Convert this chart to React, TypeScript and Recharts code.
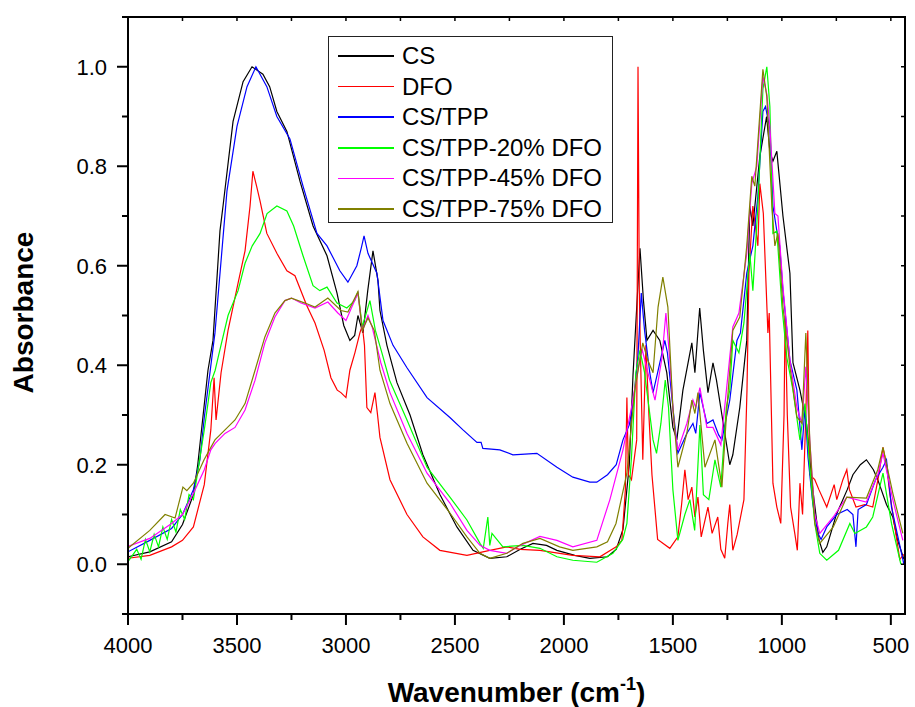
import React from "react";
import { LineChart, Line, XAxis, YAxis, Label } from "recharts";

// FTIR spectra, [wavenumber cm-1, absorbance]
type Pt = [number, number];

const CS: Pt[] = [
  [4000, 0.015], [3900, 0.025], [3800, 0.045], [3750, 0.08], [3700, 0.14], [3680, 0.2],
  [3633, 0.39], [3610, 0.45], [3578, 0.67], [3564, 0.72], [3518, 0.89], [3472, 0.97],
  [3431, 1.0], [3381, 0.985], [3350, 0.96], [3317, 0.91], [3271, 0.87], [3211, 0.77],
  [3151, 0.68], [3087, 0.62], [3041, 0.545], [3010, 0.48], [2982, 0.45], [2960, 0.46],
  [2945, 0.5], [2922, 0.465], [2900, 0.55], [2876, 0.63], [2853, 0.57], [2844, 0.51],
  [2812, 0.44], [2766, 0.365], [2706, 0.3], [2647, 0.22], [2569, 0.14], [2491, 0.075],
  [2417, 0.028], [2340, 0.012], [2262, 0.015], [2200, 0.03], [2142, 0.042], [2080, 0.038],
  [2032, 0.028], [1950, 0.018], [1881, 0.012], [1800, 0.015], [1760, 0.03], [1729, 0.07],
  [1700, 0.2], [1683, 0.38], [1651, 0.635], [1635, 0.53], [1619, 0.45], [1591, 0.47],
  [1560, 0.45], [1528, 0.385], [1500, 0.275], [1482, 0.25], [1454, 0.35], [1413, 0.445],
  [1399, 0.385], [1377, 0.515], [1360, 0.43], [1339, 0.345], [1316, 0.405], [1300, 0.37],
  [1275, 0.3], [1239, 0.2], [1225, 0.22], [1193, 0.315], [1161, 0.45], [1147, 0.72],
  [1133, 0.68], [1101, 0.82], [1070, 0.9], [1055, 0.83], [1041, 0.81], [1023, 0.83],
  [995, 0.7], [963, 0.585], [949, 0.405], [917, 0.35], [886, 0.28], [858, 0.15],
  [830, 0.05], [812, 0.024], [794, 0.035], [750, 0.1], [700, 0.15], [674, 0.18],
  [640, 0.2], [612, 0.21], [580, 0.19], [560, 0.17], [520, 0.12], [491, 0.095],
  [470, 0.05], [440, 0.01],
];

const DFO: Pt[] = [
  [4000, 0.012], [3900, 0.018], [3800, 0.035], [3750, 0.048], [3700, 0.075], [3650, 0.16],
  [3620, 0.27], [3605, 0.375], [3596, 0.29], [3573, 0.385], [3541, 0.47], [3495, 0.565],
  [3463, 0.63], [3440, 0.72], [3427, 0.79], [3410, 0.76], [3394, 0.73], [3363, 0.665],
  [3317, 0.625], [3271, 0.59], [3234, 0.58], [3180, 0.52], [3142, 0.485], [3100, 0.43],
  [3069, 0.375], [3040, 0.35], [3023, 0.345], [3000, 0.335], [2982, 0.39], [2959, 0.425],
  [2936, 0.465], [2925, 0.48], [2915, 0.44], [2904, 0.315], [2886, 0.305], [2867, 0.345],
  [2855, 0.3], [2844, 0.255], [2798, 0.17], [2720, 0.1], [2647, 0.055], [2569, 0.028],
  [2445, 0.018], [2340, 0.028], [2262, 0.035], [2200, 0.03], [2110, 0.028], [1959, 0.018],
  [1835, 0.015], [1760, 0.035], [1734, 0.048], [1718, 0.15], [1711, 0.335], [1704, 0.18],
  [1690, 0.17], [1675, 0.22], [1666, 0.25], [1660, 1.0], [1654, 0.55], [1650, 0.45],
  [1638, 0.21], [1624, 0.44], [1610, 0.3], [1596, 0.18], [1570, 0.05], [1514, 0.032],
  [1477, 0.055], [1460, 0.12], [1445, 0.19], [1430, 0.13], [1413, 0.155], [1399, 0.095],
  [1385, 0.135], [1370, 0.055], [1339, 0.115], [1320, 0.062], [1294, 0.095], [1280, 0.03],
  [1262, 0.012], [1248, 0.082], [1239, 0.12], [1225, 0.028], [1205, 0.06], [1174, 0.13],
  [1160, 0.35], [1151, 0.585], [1133, 0.72], [1110, 0.64], [1101, 0.765], [1085, 0.705],
  [1064, 0.465], [1058, 0.505], [1041, 0.163], [1023, 0.115], [1005, 0.082], [990, 0.3],
  [985, 0.5], [975, 0.3], [960, 0.115], [940, 0.06], [929, 0.028], [917, 0.163],
  [905, 0.1], [890, 0.3], [881, 0.47], [872, 0.18], [849, 0.17], [830, 0.15],
  [794, 0.115], [760, 0.16], [748, 0.13], [720, 0.17], [702, 0.19], [690, 0.15],
  [660, 0.115], [620, 0.12], [583, 0.115], [555, 0.18], [536, 0.235], [520, 0.2],
  [505, 0.143], [480, 0.07], [459, 0.01], [440, 0.02],
];

const CS_TPP: Pt[] = [
  [4000, 0.025], [3900, 0.048], [3800, 0.072], [3750, 0.1], [3700, 0.15], [3670, 0.21],
  [3650, 0.295], [3601, 0.465], [3546, 0.75], [3500, 0.88], [3454, 0.96], [3413, 1.0],
  [3363, 0.96], [3317, 0.9], [3257, 0.855], [3197, 0.76], [3133, 0.665], [3087, 0.64],
  [3028, 0.59], [2991, 0.567], [2950, 0.6], [2930, 0.635], [2917, 0.66], [2899, 0.625],
  [2858, 0.585], [2830, 0.49], [2784, 0.44], [2720, 0.395], [2628, 0.335], [2523, 0.295],
  [2463, 0.27], [2399, 0.245], [2380, 0.245], [2372, 0.233], [2294, 0.23], [2234, 0.22],
  [2124, 0.223], [2032, 0.195], [1959, 0.175], [1881, 0.165], [1849, 0.165], [1800, 0.18],
  [1760, 0.2], [1729, 0.25], [1700, 0.28], [1680, 0.33], [1660, 0.42], [1645, 0.545],
  [1630, 0.47], [1606, 0.385], [1591, 0.345], [1570, 0.385], [1537, 0.45], [1525, 0.425],
  [1500, 0.315], [1477, 0.223], [1436, 0.263], [1408, 0.283], [1395, 0.263], [1376, 0.345],
  [1344, 0.283], [1316, 0.29], [1290, 0.26], [1275, 0.25], [1239, 0.33], [1206, 0.45],
  [1190, 0.465], [1161, 0.585], [1133, 0.64], [1110, 0.74], [1087, 0.91], [1075, 0.92],
  [1055, 0.875], [1041, 0.72], [1023, 0.67], [1010, 0.64], [995, 0.55], [963, 0.41],
  [931, 0.35], [908, 0.23], [894, 0.315], [880, 0.215], [858, 0.122], [835, 0.062],
  [820, 0.05], [794, 0.075], [748, 0.1], [700, 0.11], [674, 0.1], [660, 0.035],
  [650, 0.11], [612, 0.12], [570, 0.17], [536, 0.195], [520, 0.21], [497, 0.115],
  [470, 0.06], [440, 0.0],
];

const CS_TPP_20: Pt[] = [
  [4000, 0.005], [3960, 0.03], [3940, 0.01], [3920, 0.05], [3900, 0.025], [3880, 0.06],
  [3860, 0.035], [3840, 0.075], [3820, 0.05], [3800, 0.09], [3780, 0.065], [3760, 0.11],
  [3740, 0.09], [3720, 0.14], [3700, 0.13], [3650, 0.27], [3620, 0.365], [3600, 0.39],
  [3587, 0.415], [3541, 0.5], [3495, 0.55], [3463, 0.605], [3430, 0.64], [3394, 0.665],
  [3362, 0.705], [3317, 0.72], [3271, 0.71], [3240, 0.68], [3197, 0.62], [3151, 0.56],
  [3120, 0.55], [3087, 0.557], [3041, 0.525], [2996, 0.515], [2960, 0.53], [2945, 0.548],
  [2925, 0.477], [2890, 0.53], [2865, 0.47], [2835, 0.425], [2800, 0.37], [2720, 0.29],
  [2628, 0.195], [2523, 0.135], [2445, 0.089], [2385, 0.042], [2370, 0.032], [2349, 0.095],
  [2340, 0.038], [2330, 0.062], [2280, 0.035], [2188, 0.038], [2110, 0.032], [2032, 0.015],
  [1959, 0.008], [1849, 0.004], [1775, 0.022], [1730, 0.05], [1711, 0.082], [1690, 0.215],
  [1670, 0.385], [1651, 0.43], [1630, 0.385], [1591, 0.25], [1575, 0.223], [1555, 0.283],
  [1535, 0.37], [1520, 0.315], [1500, 0.15], [1477, 0.048], [1445, 0.1], [1422, 0.13],
  [1400, 0.068], [1376, 0.28], [1360, 0.14], [1335, 0.13], [1307, 0.21], [1280, 0.155],
  [1255, 0.315], [1239, 0.35], [1225, 0.45], [1197, 0.425], [1174, 0.485], [1147, 0.625],
  [1133, 0.55], [1110, 0.72], [1087, 0.955], [1069, 1.0], [1055, 0.92], [1041, 0.665],
  [1023, 0.67], [1000, 0.52], [977, 0.415], [949, 0.35], [917, 0.25], [894, 0.323],
  [870, 0.183], [849, 0.082], [826, 0.022], [794, 0.008], [740, 0.028], [688, 0.082],
  [665, 0.062], [612, 0.075], [583, 0.095], [536, 0.183], [497, 0.082], [454, 0.0],
];

const CS_TPP_45: Pt[] = [
  [4000, 0.036], [3900, 0.052], [3800, 0.082], [3750, 0.1], [3700, 0.142], [3650, 0.19],
  [3620, 0.23], [3600, 0.243], [3555, 0.263], [3509, 0.275], [3463, 0.31], [3417, 0.37],
  [3372, 0.445], [3326, 0.497], [3280, 0.53], [3250, 0.535], [3206, 0.525], [3142, 0.515],
  [3083, 0.527], [3037, 0.505], [3000, 0.49], [2945, 0.545], [2925, 0.47], [2899, 0.5],
  [2880, 0.477], [2840, 0.405], [2798, 0.345], [2720, 0.263], [2628, 0.183], [2523, 0.123],
  [2445, 0.068], [2385, 0.038], [2340, 0.028], [2262, 0.022], [2200, 0.038], [2110, 0.056],
  [2032, 0.048], [1959, 0.035], [1849, 0.048], [1789, 0.13], [1729, 0.23], [1690, 0.315],
  [1651, 0.415], [1640, 0.43], [1615, 0.385], [1582, 0.33], [1550, 0.415], [1532, 0.505],
  [1515, 0.415], [1495, 0.283], [1477, 0.23], [1436, 0.283], [1408, 0.33], [1395, 0.315],
  [1376, 0.355], [1344, 0.275], [1316, 0.275], [1280, 0.24], [1252, 0.36], [1225, 0.477],
  [1197, 0.505], [1161, 0.625], [1138, 0.765], [1115, 0.8], [1087, 0.98], [1069, 0.945],
  [1055, 0.88], [1032, 0.705], [1018, 0.7], [995, 0.557], [963, 0.41], [931, 0.315],
  [908, 0.283], [890, 0.397], [872, 0.25], [849, 0.1], [826, 0.062], [764, 0.095],
  [702, 0.135], [612, 0.125], [560, 0.18], [536, 0.223], [491, 0.13], [445, 0.048],
];

const CS_TPP_75: Pt[] = [
  [4000, 0.032], [3900, 0.068], [3830, 0.1], [3784, 0.093], [3748, 0.155], [3730, 0.148],
  [3700, 0.163], [3651, 0.21], [3601, 0.25], [3555, 0.27], [3509, 0.29], [3463, 0.323],
  [3417, 0.39], [3372, 0.457], [3326, 0.505], [3280, 0.53], [3250, 0.535], [3188, 0.525],
  [3142, 0.517], [3083, 0.535], [3023, 0.51], [2991, 0.507], [2945, 0.548], [2925, 0.47],
  [2899, 0.495], [2870, 0.47], [2844, 0.39], [2798, 0.323], [2720, 0.243], [2628, 0.163],
  [2523, 0.103], [2445, 0.055], [2385, 0.022], [2340, 0.012], [2262, 0.022], [2188, 0.042],
  [2110, 0.052], [2020, 0.035], [1959, 0.028], [1849, 0.035], [1800, 0.045], [1761, 0.082],
  [1711, 0.183], [1675, 0.35], [1638, 0.445], [1615, 0.41], [1591, 0.385], [1568, 0.517],
  [1546, 0.577], [1523, 0.517], [1500, 0.315], [1477, 0.195], [1436, 0.263], [1413, 0.33],
  [1399, 0.303], [1385, 0.345], [1353, 0.195], [1307, 0.25], [1275, 0.155], [1252, 0.315],
  [1225, 0.47], [1193, 0.497], [1161, 0.64], [1138, 0.78], [1124, 0.76], [1087, 0.995],
  [1069, 0.94], [1046, 0.72], [1032, 0.64], [1018, 0.665], [995, 0.517], [963, 0.397],
  [931, 0.296], [908, 0.283], [890, 0.465], [872, 0.25], [849, 0.082], [826, 0.042],
  [764, 0.075], [702, 0.135], [612, 0.133], [560, 0.19], [536, 0.235], [491, 0.143],
  [445, 0.062],
];

const seriesNames = ["CS", "DFO", "CS/TPP", "CS/TPP-20% DFO", "CS/TPP-45% DFO", "CS/TPP-75% DFO"];
const seriesColors = ["#000000", "#ff0000", "#0000ff", "#00ff00", "#ff00ff", "#808000"];
const seriesData = [CS, DFO, CS_TPP, CS_TPP_20, CS_TPP_45, CS_TPP_75];

const xDomain = [435, 4000];
const yDomain = [-0.1, 1.1];
// 435 = right edge of the frame (no label)
const xTicks = [4000, 3750, 3500, 3250, 3000, 2750, 2500, 2250, 2000, 1750, 1500, 1250, 1000, 750, 500, 435];
const yTicks = [-0.1, 0, 0.1, 0.2, 0.3, 0.4, 0.5, 0.6, 0.7, 0.8, 0.9, 1.0, 1.1];

const FONT = "'Liberation Sans', Arial, Helvetica, sans-serif";

const CHART_W = 915;
const CHART_H = 707;
const MARGIN = { top: 17, right: 10, left: 0, bottom: 0 };
const Y_AXIS_W = 128;
const X_AXIS_H = 93;
const PLOT_W = CHART_W - MARGIN.left - Y_AXIS_W - MARGIN.right;
const PLOT_H = CHART_H - MARGIN.top - MARGIN.bottom - X_AXIS_H;

const BottomTick = (props: any) => {
  const { x, y, payload } = props;
  const v = payload.value;
  if (v === xDomain[0]) {
    // right side of the box
    return <line x1={x} x2={x} y1={y + 1} y2={y - PLOT_H - 1} stroke="#000" strokeWidth={2} />;
  }
  const major = v % 500 === 0;
  return (
    <g>
      <line x1={x} x2={x} y1={y} y2={y + (major ? 11 : 6)} stroke="#000" strokeWidth={2} />
      {/* small inward tick on the top side */}
      <line x1={x} x2={x} y1={y - PLOT_H} y2={y - PLOT_H + 4} stroke="#000" strokeWidth={1.5} />
      {major && (
        <text x={x} y={y + 39} textAnchor="middle" fontSize={22} fontFamily={FONT} fill="#000">
          {v}
        </text>
      )}
    </g>
  );
};

const LeftTick = (props: any) => {
  const { x, y, payload } = props;
  const k = Math.round(payload.value * 10);
  const major = k >= 0 && k <= 10 && k % 2 === 0;
  return (
    <g>
      <line x1={x - (major ? 11 : 6)} x2={x} y1={y} y2={y} stroke="#000" strokeWidth={2} />
      {/* small inward tick on the right side */}
      <line x1={x + PLOT_W - 4} x2={x + PLOT_W} y1={y} y2={y} stroke="#000" strokeWidth={1.5} />
      {/* top side of the box */}
      {k === 11 && <line x1={x - 1} x2={x + PLOT_W + 1} y1={y} y2={y} stroke="#000" strokeWidth={2} />}
      {major && (
        <text x={x - 21} y={y + 8} textAnchor="end" fontSize={22} fontFamily={FONT} fill="#000">
          {(k / 10).toFixed(1)}
        </text>
      )}
    </g>
  );
};

const XTitle = (props: any) => {
  const vb = props.viewBox || { x: 128, y: 614, width: 777 };
  return (
    <text x={vb.x + vb.width / 2} y={vb.y + 88} textAnchor="middle" fontSize={28} fontWeight="bold" fontFamily={FONT} fill="#000">
      Wavenumber (cm
      <tspan fontSize={18} dy={-12}>-1</tspan>
      <tspan dy={12}>)</tspan>
    </text>
  );
};

const YTitle = (props: any) => {
  const vb = props.viewBox || { y: 17, height: 597 };
  const cy = vb.y + vb.height / 2 - 3;
  return (
    <text x={33} y={cy} transform={`rotate(-90, 33, ${cy})`} textAnchor="middle" fontSize={28} fontWeight="bold" fontFamily={FONT} fill="#000">
      Absorbance
    </text>
  );
};

const axisLine = { stroke: "#000", strokeWidth: 2 };

export default function App() {
  return (
    <div style={{ position: "absolute", left: 0, top: 0, width: CHART_W, height: CHART_H, background: "#fff" }}>
      <LineChart width={CHART_W} height={CHART_H} margin={MARGIN}>
        <XAxis
          xAxisId="b"
          type="number"
          dataKey="wn"
          domain={xDomain}
          reversed
          allowDataOverflow
          ticks={xTicks}
          interval={0}
          tickLine={false}
          tickSize={0}
          tickMargin={0}
          tick={<BottomTick />}
          axisLine={axisLine}
          height={X_AXIS_H}
        >
          <Label content={XTitle} />
        </XAxis>
        <YAxis
          yAxisId="l"
          type="number"
          domain={yDomain}
          allowDataOverflow
          ticks={yTicks}
          interval={0}
          tickLine={false}
          tickSize={0}
          tickMargin={0}
          tick={<LeftTick />}
          axisLine={axisLine}
          width={Y_AXIS_W}
        >
          <Label content={YTitle} />
        </YAxis>
        {seriesData.map((pts, i) => (
          <Line
            key={seriesNames[i]}
            xAxisId="b"
            yAxisId="l"
            name={seriesNames[i]}
            data={pts.map(([wn, a]) => ({ wn, a }))}
            dataKey="a"
            type="linear"
            stroke={seriesColors[i]}
            strokeWidth={1.2}
            dot={false}
            activeDot={false}
            isAnimationActive={false}
          />
        ))}
      </LineChart>

      {/* legend box */}
      <div
        style={{
          position: "absolute",
          left: 328,
          top: 36,
          width: 283,
          height: 185,
          border: "1.5px solid #222",
          background: "#fff",
          fontFamily: FONT,
          fontSize: 24,
          color: "#000",
        }}
      >
        {seriesNames.map((name, i) => (
          <div key={name} style={{ position: "absolute", left: 0, top: 4 + i * 30.6, height: 30, display: "flex", alignItems: "center" }}>
            <div style={{ marginLeft: 9, width: 56, height: 1.5, background: seriesColors[i] }} />
            <span style={{ marginLeft: 8, whiteSpace: "nowrap", lineHeight: "30px" }}>{name}</span>
          </div>
        ))}
      </div>
    </div>
  );
}
